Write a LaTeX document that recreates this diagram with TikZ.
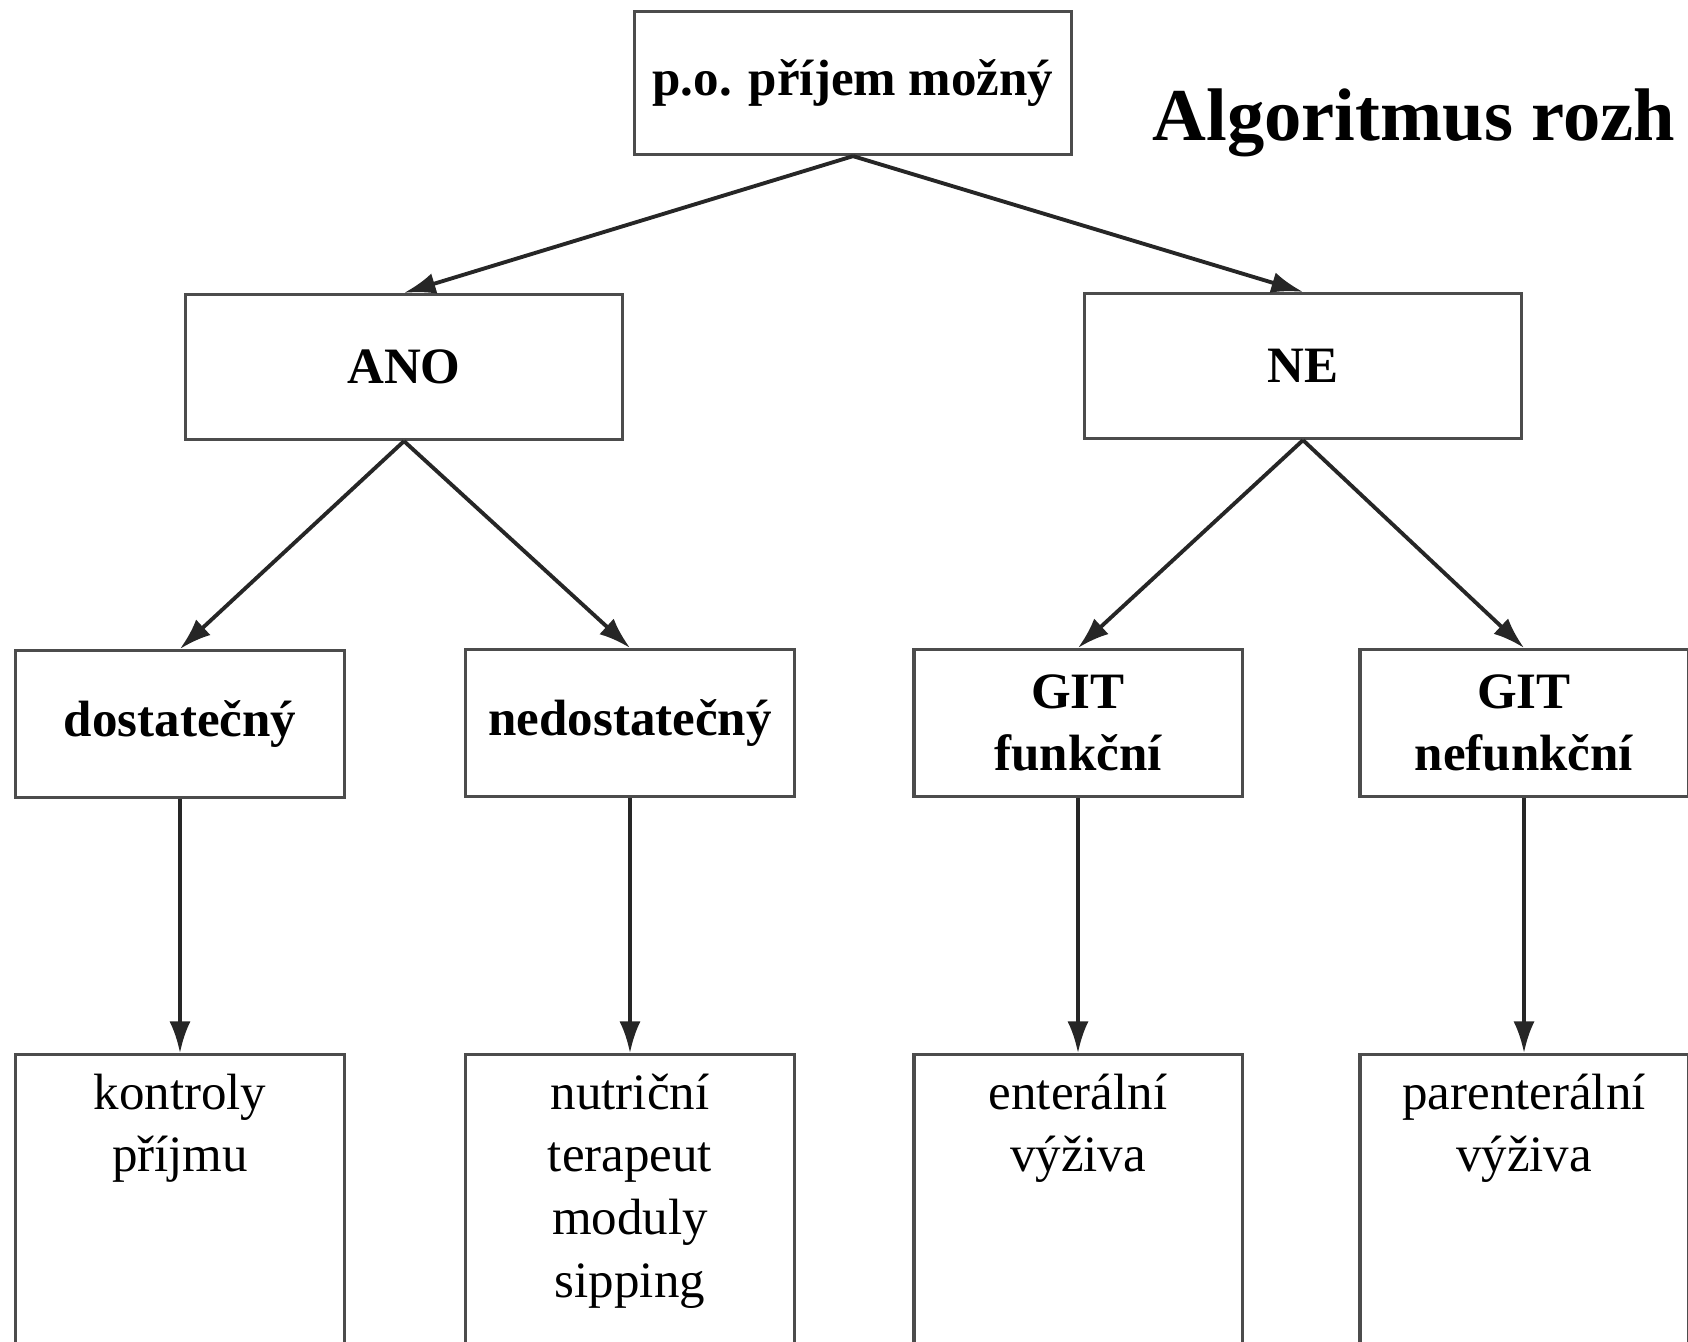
\documentclass[tikz,border=0pt]{standalone}
\usepackage{fontspec}
\setmainfont{Liberation Serif}
\usetikzlibrary{arrows.meta,positioning}

\begin{document}
\begin{tikzpicture}[
    x=0.01cm, y=-0.01cm,
    every node/.style={font=\fontsize{14.5}{17.8}\selectfont},
    box/.style={draw=black!70,line width=0.9pt,rectangle,inner sep=0pt,align=center,font=\fontsize{14.5}{17.8}\selectfont\bfseries},
    level1/.style={box,minimum width=4.36cm,minimum height=1.45cm},
    level2/.style={box,minimum width=3.28cm,minimum height=1.47cm},
    leaf/.style={draw=black!70,line width=0.9pt,rectangle,minimum width=3.28cm,minimum height=2.9cm,anchor=north},
    leaftext/.style={align=center,inner sep=0pt},
    arr/.style={draw=black!85,line width=1.1pt,-{Latex[length=9pt,width=6pt]}}
]
\useasboundingbox (0,0) rectangle (1688,1341);
\clip (0,0) rectangle (1688,1341);

\node[level1,minimum height=1.43cm] (root) at (853,83) {p.o. příjem možný};
\node[anchor=base west,inner sep=0pt,font=\fontsize{21.2}{26}\selectfont\bfseries] (title) at (1152,140) {Algoritmus rozh};

\node[level1] (ano) at (404,367) {ANO};
\node[level1] (ne) at (1303,366) {NE};

\node[level2] (dost) at (180,724) {dostatečný};
\node[level2] (nedost) at (630,723) {nedostatečný};
\node[level2] (gitf) at (1078,723) {GIT\\funkční};
\node[level2] (gitn) at (1524,723) {GIT\\nefunkční};

% bottom boxes, text at the top
\node[leaf] (kontr) at (180,1053) {};
\node[leaf] (nutr) at (630,1053) {};
\node[leaf] (enter) at (1078,1053) {};
\node[leaf] (parent) at (1524,1053) {};
\node[leaftext,below=0.2cm of kontr.north] (kontrtext) {kontroly\\příjmu};
\node[leaftext,below=0.2cm of nutr.north] (nutrtext) {nutriční\\terapeut\\moduly\\sipping};
\node[leaftext,below=0.2cm of enter.north] (entertext) {enterální\\výživa};
\node[leaftext,below=0.2cm of parent.north] (parenttext) {parenterální\\výživa};

\draw[arr] (root.south) -- (ano.north);
\draw[arr] (root.south) -- (ne.north);
\draw[arr] (ano.south) -- (dost.north);
\draw[arr] (ano.south) -- (nedost.north);
\draw[arr] (ne.south) -- (gitf.north);
\draw[arr] (ne.south) -- (gitn.north);
\draw[arr] (dost.south) -- (kontr.north);
\draw[arr] (nedost.south) -- (nutr.north);
\draw[arr] (gitf.south) -- (enter.north);
\draw[arr] (gitn.south) -- (parent.north);
\end{tikzpicture}
\end{document}
